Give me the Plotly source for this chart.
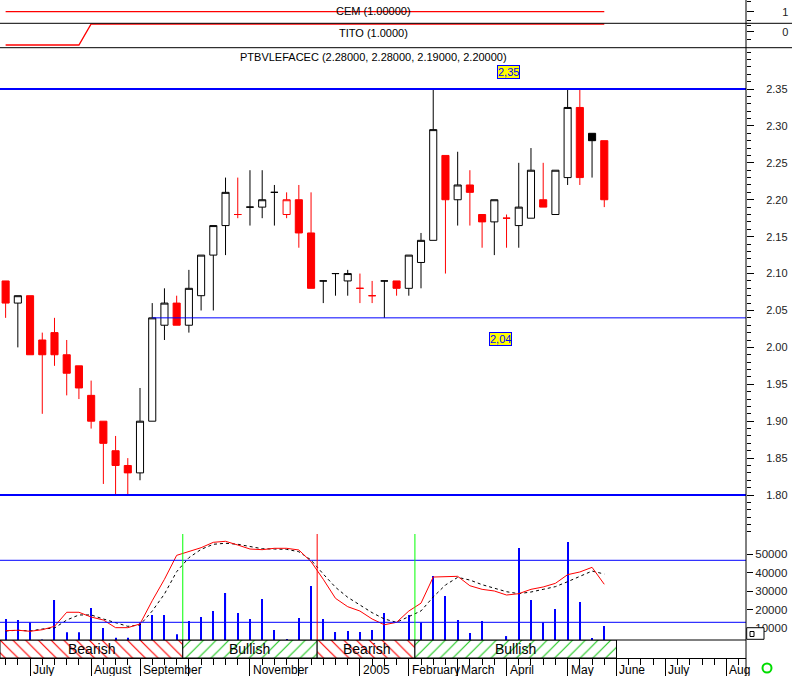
import plotly.graph_objects as go

# ---------------- data (weekly bars, index 0 = late June 2004) ----------------
weeks = list(range(50))

opens = [2.09, 2.06, 2.07, 2.01, 2.02, 1.99, 1.975, 1.935, 1.90, 1.86,
         1.84, 1.83, 1.90, 2.03, 2.06, 2.03, 2.07, 2.125, 2.165, 2.18,
         2.19, 2.19, 2.21, 2.18, 2.20, 2.155, 2.09, 2.10, 2.09, 2.08,
         2.07, 2.09, 2.09, 2.08, 2.115, 2.145, 2.26, 2.20, 2.22, 2.18,
         2.17, 2.175, 2.165, 2.175, 2.20, 2.18, 2.23, 2.325, 2.29, 2.28]
highs = [2.09, 2.07, 2.07, 2.02, 2.04, 2.01, 1.975, 1.955, 1.90, 1.88,
         1.85, 1.945, 2.06, 2.08, 2.07, 2.105, 2.125, 2.165, 2.23, 2.23,
         2.24, 2.24, 2.22, 2.21, 2.22, 2.21, 2.09, 2.10, 2.105, 2.10,
         2.09, 2.09, 2.09, 2.125, 2.155, 2.35, 2.26, 2.265, 2.24, 2.18,
         2.20, 2.18, 2.25, 2.27, 2.25, 2.24, 2.35, 2.35, 2.29, 2.28]
lows = [2.04, 2.00, 1.99, 1.91, 1.975, 1.935, 1.93, 1.89, 1.815, 1.80,
        1.80, 1.82, 1.90, 2.01, 2.03, 2.02, 2.05, 2.05, 2.125, 2.175,
        2.165, 2.175, 2.165, 2.175, 2.135, 2.08, 2.06, 2.07, 2.07, 2.06,
        2.06, 2.04, 2.07, 2.07, 2.08, 2.145, 2.10, 2.165, 2.165, 2.135,
        2.125, 2.135, 2.135, 2.175, 2.19, 2.18, 2.22, 2.22, 2.23, 2.19]
closes = [2.06, 2.07, 1.99, 1.99, 1.99, 1.965, 1.945, 1.90, 1.87, 1.84,
          1.83, 1.90, 2.04, 2.06, 2.03, 2.08, 2.125, 2.165, 2.21, 2.18,
          2.19, 2.20, 2.21, 2.20, 2.155, 2.08, 2.09, 2.10, 2.10, 2.08,
          2.07, 2.09, 2.08, 2.125, 2.145, 2.295, 2.20, 2.22, 2.21, 2.17,
          2.20, 2.175, 2.19, 2.24, 2.19, 2.24, 2.325, 2.23, 2.28, 2.20]

volume = [15000, 14500, 13200, 4000, 25300, 7800, 7800, 21000, 10200, 4900,
          4900, 13200, 17200, 17200, 6800, 13900, 16100, 19400, 29100, 18300,
          15000, 25800, 9100, 4200, 15600, 32900, 15000, 8000, 8500, 8000,
          9100, 18300, 3000, 17200, 13200, 38300, 27500, 14500, 7500, 13900,
          3000, 5800, 53400, 25300, 13200, 20400, 56600, 24200, 4800, 11200]

stoch_k = [11.9, 12.3, 11.3, 12.8, 16.1, 29.7, 29.7, 25.1, 22.2, 14.8,
           14.8, 18.4, 40.9, 61.6, 84.8, 88.7, 92.2, 97.4, 98.4, 94.8,
           90.9, 90.3, 91.6, 91.6, 90.0, 78.7, 61.6, 43.2, 35.1, 30.9,
           23.2, 17.6, 20.0, 30.9, 38.5, 63.8, 63.8, 64.5, 55.4, 51.9,
           50.3, 46.4, 47.7, 51.9, 54.2, 57.7, 66.1, 68.7, 73.2, 56.8]
stoch_d = [11.6, 12.3, 11.6, 13.5, 14.5, 22.2, 27.1, 27.1, 23.2, 20.0,
           16.1, 17.4, 30.9, 47.4, 69.0, 82.5, 90.6, 95.5, 96.5, 95.5,
           93.2, 91.2, 90.9, 90.6, 88.3, 80.3, 66.7, 53.9, 44.2, 36.7,
           29.3, 23.2, 20.0, 25.5, 31.0, 44.5, 56.1, 63.5, 60.9, 56.4,
           52.9, 49.6, 47.7, 49.3, 51.9, 54.5, 59.3, 64.1, 69.6, 66.7]
stoch_bounds = [80, 20]

cem = [1, 1, 1, 1, 1, 1, 1, 1, 1, 1, 1, 1, 1, 1, 1, 1, 1, 1, 1, 1, 1, 1, 1, 1, 1,
       1, 1, 1, 1, 1, 1, 1, 1, 1, 1, 1, 1, 1, 1, 1, 1, 1, 1, 1, 1, 1, 1, 1, 1, 1]
tito = [0, 0, 0, 0, 0, 0, 0, 1, 1, 1, 1, 1, 1, 1, 1, 1, 1, 1, 1, 1, 1, 1, 1, 1, 1,
        1, 1, 1, 1, 1, 1, 1, 1, 1, 1, 1, 1, 1, 1, 1, 1, 1, 1, 1, 1, 1, 1, 1, 1, 1]

resistance_levels = [2.35, 1.80]
support_level = 2.04
support_start = 12

signal_x = [14.5, 25.5, 33.5]
signal_type = ["buy", "sell", "buy"]
band_edges = [-0.46, 14.5, 25.5, 33.5, 50.0]
band_labels = ["Bearish", "Bullish", "Bearish", "Bullish"]

month_idx = [-2, 2, 7, 11, 15, 20, 24, 29, 33, 37, 41, 46, 50, 54, 59]
month_labels = ["June", "July", "August", "September", "", "November", "", "2005",
                "February", "March", "April", "May", "June", "July", "Aug"]

price_ticks = [1.80, 1.85, 1.90, 1.95, 2.00, 2.05, 2.10, 2.15, 2.20, 2.25, 2.30, 2.35]
vol_ticks = [10000, 20000, 30000, 40000, 50000]

# ---------------- layout geometry ----------------
H_PLOT = 658.0
def frac(px):
    return 1 - px / H_PLOT

X_RANGE = [-0.46, 60.6]
cem_dom = [frac(23.3), 1]
tito_dom = [frac(47.7), frac(23.3)]
price_dom = [frac(534), frac(47.7)]
vol_dom = [frac(640), frac(534)]
band_dom = [0, frac(640)]

FONT = "Liberation Sans, Arial, sans-serif"
RED = "#ff0000"
BLUE = "#0000ff"

fig = go.Figure()

# ---- candle colours: red if close below previous close (unchanged keeps colour)
red_ids, black_ids = [], []
prev_red = True
for i in weeks:
    if i == 0:
        is_red = closes[i] < opens[i]
    elif closes[i] < closes[i - 1]:
        is_red = True
    elif closes[i] > closes[i - 1]:
        is_red = False
    else:
        is_red = prev_red
    prev_red = is_red
    (red_ids if is_red else black_ids).append(i)

def sub(arr, ids):
    return [arr[i] for i in ids]

for ids, col in [(black_ids, "#000000"), (red_ids, RED)]:
    fig.add_trace(go.Candlestick(
        x=sub(weeks, ids), open=sub(opens, ids), high=sub(highs, ids),
        low=sub(lows, ids), close=sub(closes, ids),
        increasing=dict(line=dict(color=col, width=1), fillcolor="#ffffff"),
        decreasing=dict(line=dict(color=col, width=1), fillcolor=col),
        whiskerwidth=0, xaxis="x", yaxis="y", showlegend=False, hoverinfo="skip"))

# ---- CEM / TITO indicator panels
fig.add_trace(go.Scatter(x=weeks, y=cem, mode="lines", line=dict(color=RED, width=1.3),
                         xaxis="x", yaxis="y2", hoverinfo="skip"))
fig.add_trace(go.Scatter(x=weeks, y=tito, mode="lines", line=dict(color=RED, width=1.3),
                         xaxis="x", yaxis="y3", hoverinfo="skip"))

# ---- volume bars
fig.add_trace(go.Bar(x=weeks, y=volume, width=0.09, marker=dict(color=BLUE, line=dict(width=0)),
                     xaxis="x", yaxis="y4", hoverinfo="skip"))

# ---- stochastic lines
fig.add_trace(go.Scatter(x=weeks, y=stoch_d, mode="lines", line=dict(color="#000000", width=1, dash="dot"),
                         xaxis="x", yaxis="y5", hoverinfo="skip"))
fig.add_trace(go.Scatter(x=weeks, y=stoch_k, mode="lines", line=dict(color=RED, width=1),
                         xaxis="x", yaxis="y5", hoverinfo="skip"))

# ---- Bearish / Bullish band
band_centers = [(band_edges[k] + band_edges[k + 1]) / 2 for k in range(len(band_labels))]
band_widths = [band_edges[k + 1] - band_edges[k] for k in range(len(band_labels))]
fig.add_trace(go.Bar(
    x=band_centers, y=[1] * len(band_labels), base=0, width=band_widths,
    marker=dict(color="white", line=dict(color="black", width=1),
                pattern=dict(shape=["\\" if b == "Bearish" else "/" for b in band_labels],
                             fgcolor=[RED if b == "Bearish" else "#22c922" for b in band_labels],
                             bgcolor="white", size=9, solidity=0.13)),
    xaxis="x", yaxis="y6", hoverinfo="skip"))

shapes = []
# resistance / support lines
for lv in resistance_levels:
    shapes.append(dict(type="line", xref="paper", x0=0, x1=1, yref="y", y0=lv, y1=lv,
                       line=dict(color=BLUE, width=2)))
shapes.append(dict(type="line", xref="x", x0=support_start, x1=X_RANGE[1], yref="y",
                   y0=support_level, y1=support_level, line=dict(color=BLUE, width=1)))
# stochastic bounds
for b in stoch_bounds:
    shapes.append(dict(type="line", xref="paper", x0=0, x1=1, yref="y5", y0=b, y1=b,
                       line=dict(color=BLUE, width=1)))
# signal lines
for sx, st in zip(signal_x, signal_type):
    shapes.append(dict(type="line", xref="x", x0=sx, x1=sx, yref="y4 domain", y0=0, y1=1,
                       line=dict(color="#00ff00" if st == "buy" else RED, width=1)))
# panel separators
for yy in [cem_dom[0], tito_dom[0]]:
    shapes.append(dict(type="line", xref="paper", x0=0, x1=792 / 746, yref="paper", y0=yy, y1=yy,
                       line=dict(color="black", width=1)))
shapes.append(dict(type="line", xref="paper", x0=0, x1=1, yref="paper", y0=band_dom[1], y1=band_dom[1],
                   line=dict(color="black", width=1)))
# right axis line
shapes.append(dict(type="line", xref="paper", x0=1, x1=1, yref="paper", y0=-18 / H_PLOT, y1=1,
                   line=dict(color="black", width=1)))
# small widget box and status circle
shapes.append(dict(type="rect", xref="paper", yref="paper", x0=746.7 / 746, x1=764 / 746,
                   y0=frac(639.3), y1=frac(627.7), fillcolor="white", line=dict(color="black", width=1)))
shapes.append(dict(type="rect", xref="paper", yref="paper", x0=750 / 746, x1=754 / 746,
                   y0=frac(636.5), y1=frac(631.5), fillcolor="white", line=dict(color="black", width=1)))
shapes.append(dict(type="circle", xref="paper", yref="paper", xsizemode="pixel", ysizemode="pixel",
                   xanchor=767 / 746, yanchor=frac(668), x0=-4.5, x1=4.5, y0=-4.5, y1=4.5,
                   line=dict(color="#00dd00", width=2), fillcolor="white"))

annotations = []
annotations.append(dict(xref="paper", yref="paper", x=0.5, y=frac(11), yanchor="middle",
                        text="CEM (1.00000)",
                        showarrow=False, font=dict(family=FONT, size=11, color="#000")))
annotations.append(dict(xref="paper", yref="paper", x=0.5, y=frac(33), yanchor="middle",
                        text="TITO (1.0000)",
                        showarrow=False, font=dict(family=FONT, size=11, color="#000")))
annotations.append(dict(xref="paper", yref="paper", x=0.5, y=frac(57), yanchor="middle",
                        text="PTBVLEFACEC (%.5f, %.5f, %.5f, %.5f)" % (opens[-1], highs[-1], lows[-1], closes[-1]),
                        showarrow=False, font=dict(family=FONT, size=11, color="#000")))
# level labels
for lv, lx, ys in [(resistance_levels[0], 41.2, 17), (support_level, 40.5, -21)]:
    annotations.append(dict(xref="x", yref="y", x=lx, y=lv, yshift=ys, yanchor="middle",
                            text=("%.2f" % lv).replace(".", ","), showarrow=False,
                            bgcolor="#ffff00", bordercolor=BLUE, borderwidth=1, borderpad=0,
                            font=dict(family=FONT, size=11, color=BLUE)))
# band labels
for c, lab in zip(band_centers, band_labels):
    annotations.append(dict(xref="x", yref="y6", x=c, y=0.5, yanchor="middle", text=lab, showarrow=False,
                            font=dict(family=FONT, size=14, color="#000")))
# month labels
for mx, ml in zip(month_idx, month_labels):
    if ml:
        annotations.append(dict(xref="x", yref="paper", x=mx, y=0, xanchor="left", yanchor="top",
                                xshift=1, yshift=-3, text=ml, showarrow=False,
                                font=dict(family=FONT, size=12, color="#000")))

common_y = dict(showgrid=False, zeroline=False, showline=False, fixedrange=True)

fig.update_layout(
    width=792, height=676, template="none",
    margin=dict(l=0, r=46, t=0, b=18, pad=0, autoexpand=False),
    paper_bgcolor="white", plot_bgcolor="white", showlegend=False,
    boxgap=0.17, barmode="overlay",
    font=dict(family=FONT, size=11, color="#000"),
    xaxis=dict(domain=[0, 1], range=X_RANGE, anchor="y6", showgrid=False, zeroline=False,
               showline=True, linecolor="black", linewidth=1, mirror=False,
               tickmode="array", tickvals=month_idx, ticks="outside", ticklen=17,
               tickcolor="black", tickwidth=1, showticklabels=False,
               minor=dict(tickmode="array", tickvals=list(range(0, 61)), ticks="outside",
                          ticklen=6, tickcolor="black", tickwidth=1),
               rangeslider=dict(visible=False), fixedrange=True),
    yaxis=dict(domain=price_dom, range=[1.7472, 2.40595], side="right", anchor="x",
               tickmode="array", tickvals=price_ticks, ticktext=["%.2f" % v for v in price_ticks],
               ticks="outside", ticklen=7, tickcolor="black", tickwidth=1,
               tickfont=dict(family=FONT, size=11, color="#222"), ticklabelstandoff=10,
               minor=dict(tickmode="array", tickvals=[round(1.75 + 0.01 * k, 2) for k in range(66)],
                          ticks="outside", ticklen=4, tickcolor="black", tickwidth=1),
               **common_y),
    yaxis2=dict(domain=cem_dom, range=[0, 2], side="right", anchor="x",
                tickmode="array", tickvals=[1], ticktext=["1"], ticks="outside", ticklen=7,
                tickcolor="black", tickfont=dict(family=FONT, size=11, color="#222"),
                ticklabelstandoff=26,
                minor=dict(tickmode="array", tickvals=[0.2, 1.85], ticks="outside", ticklen=4,
                           tickcolor="black"),
                **common_y),
    yaxis3=dict(domain=tito_dom, range=[-0.129, 1.033], side="right", anchor="x",
                tickmode="array", tickvals=[0.633], ticktext=["0"], ticks="outside", ticklen=7,
                tickcolor="black", tickfont=dict(family=FONT, size=11, color="#222"),
                ticklabelstandoff=26,
                minor=dict(tickmode="array", tickvals=[0.952, 0.238], ticks="outside", ticklen=4,
                           tickcolor="black"),
                **common_y),
    yaxis4=dict(domain=vol_dom, range=[3676, 60973], side="right", anchor="x",
                tickmode="array", tickvals=vol_ticks, ticktext=[str(v) for v in vol_ticks],
                ticks="outside", ticklen=6, tickcolor="black",
                tickfont=dict(family=FONT, size=11.5, color="#222"), ticklabelstandoff=0,
                **common_y),
    yaxis5=dict(overlaying="y4", range=[2.87, 105.45], anchor="x", side="right", visible=False,
                **common_y),
    yaxis6=dict(domain=band_dom, range=[0, 1], anchor="x", visible=False, **common_y),
    shapes=shapes, annotations=annotations,
)

fig.write_html("out.html", config={"displayModeBar": False},
               post_script="document.body.style.margin='0';document.body.style.padding='0';")
